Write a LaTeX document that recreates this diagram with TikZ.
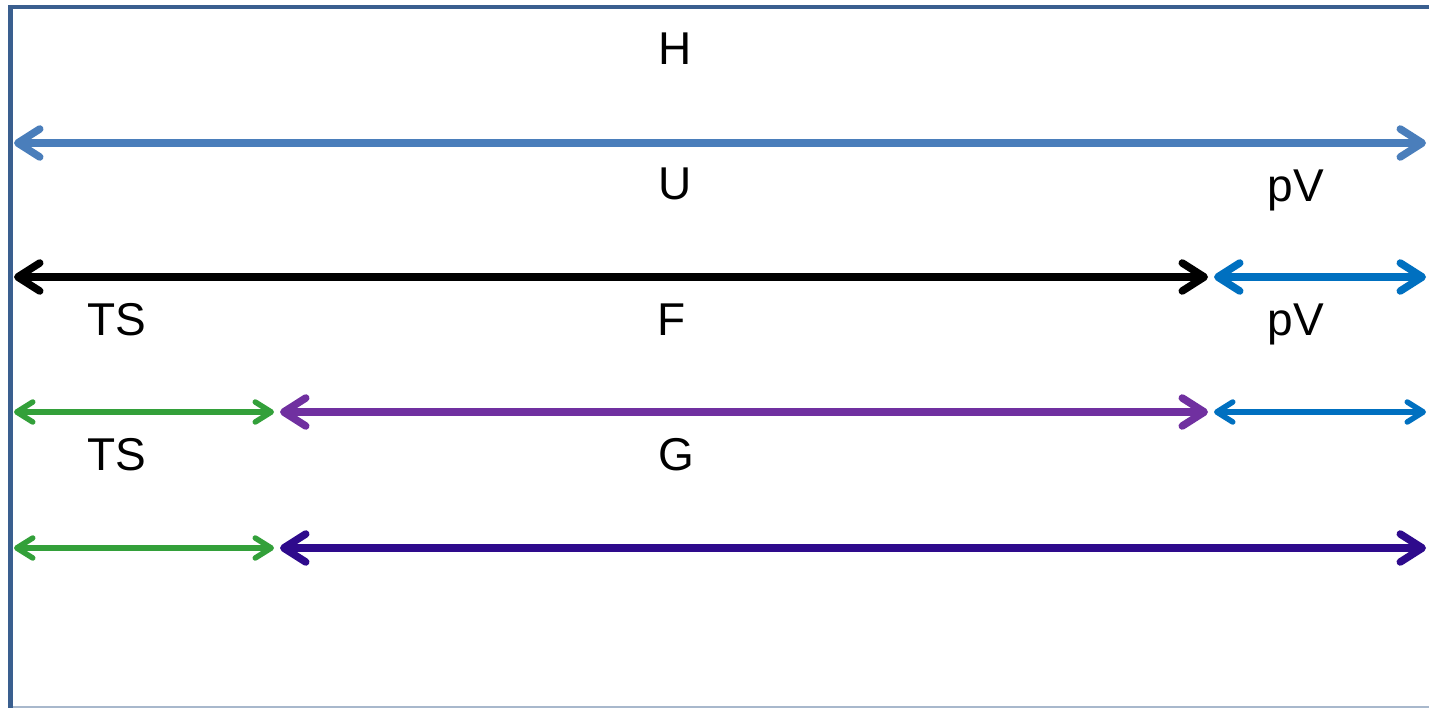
\documentclass[tikz,border=0pt]{standalone}
\usepackage{fontspec}
\setmainfont{Liberation Sans}
\usetikzlibrary{arrows.meta}
\definecolor{framec}{HTML}{3A5F8F}
\definecolor{hblue}{HTML}{4A7EBB}
\definecolor{pvblue}{HTML}{0070C0}
\definecolor{tsgreen}{HTML}{33A03A}
\definecolor{fpurple}{HTML}{7030A0}
\definecolor{gindigo}{HTML}{2E0A8C}
\definecolor{botline}{HTML}{A8B8CC}
\tikzset{
  x=1pt,y=-1pt,
  thickarr/.style={line width=7.5pt,line cap=round,
    {Straight Barb[length=22pt,width=28pt,line cap=round,line join=round]}-{Straight Barb[length=22pt,width=28pt,line cap=round,line join=round]}},
  thinarr/.style={line width=5.5pt,line cap=round,
    {Straight Barb[length=16pt,width=20pt,line cap=round,line join=round]}-{Straight Barb[length=16pt,width=20pt,line cap=round,line join=round]}},
  lbl/.style={anchor=base,inner sep=0pt,font=\fontsize{46}{50}\selectfont}
}
\begin{document}
\begin{tikzpicture}
\useasboundingbox (0,0) rectangle (1429,708);
% frame
\draw[botline,line width=1.5pt] (10,707) -- (1429,707);
\draw[framec,line width=4.5pt] (1429,7) -- (10.5,7) -- (10.5,708);
% coordinates
\coordinate (hL) at (14,143);  \coordinate (hR) at (1426,143);
\coordinate (uL) at (14,277);  \coordinate (uR) at (1208,277);
\coordinate (p1L) at (1214,277); \coordinate (p1R) at (1426,277);
\coordinate (t1L) at (14,412); \coordinate (t1R) at (274,412);
\coordinate (fL) at (280,412); \coordinate (fR) at (1208,412);
\coordinate (p2L) at (1214,412); \coordinate (p2R) at (1426,412);
\coordinate (t2L) at (14,548); \coordinate (t2R) at (274,548);
\coordinate (gL) at (280,548); \coordinate (gR) at (1426,548);
% arrows
\draw[thickarr,hblue] (hL) -- (hR);
\draw[thickarr,black] (uL) -- (uR);
\draw[thickarr,pvblue] (p1L) -- (p1R);
\draw[thinarr,tsgreen] (t1L) -- (t1R);
\draw[thickarr,fpurple] (fL) -- (fR);
\draw[thinarr,pvblue] (p2L) -- (p2R);
\draw[thinarr,tsgreen] (t2L) -- (t2R);
\draw[thickarr,gindigo] (gL) -- (gR);
% labels
\node[lbl] (lH) at (675,65) {H};
\node[lbl] (lU) at (675,200) {U};
\node[lbl] (lpV1) at (1296,202) {pV};
\node[lbl] (lTS1) at (117,336) {TS};
\node[lbl] (lF) at (672,336) {F};
\node[lbl] (lpV2) at (1296,336) {pV};
\node[lbl] (lTS2) at (117,470) {TS};
\node[lbl] (lG) at (676,470) {G};
\end{tikzpicture}
\end{document}
